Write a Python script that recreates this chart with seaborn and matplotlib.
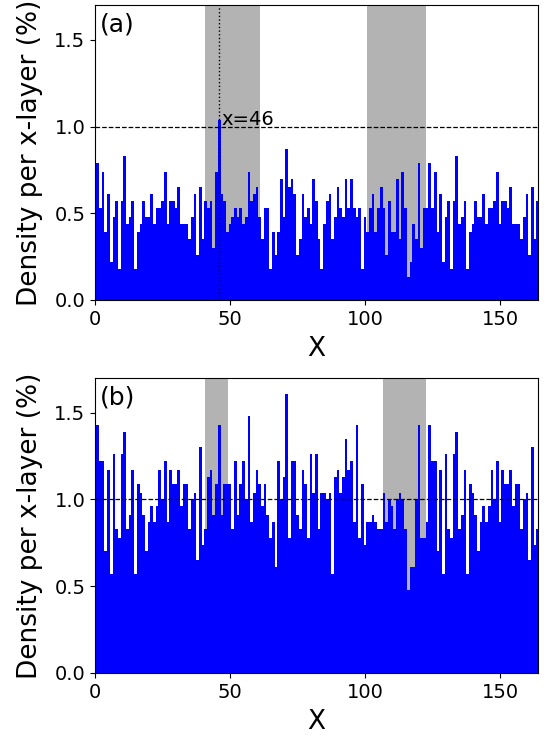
import numpy as np
import matplotlib
matplotlib.use("Agg")
import matplotlib.pyplot as plt
import seaborn as sns

## Data

x_layer = np.arange(165)

density_a = [
    0.53, 0.79, 0.53, 0.74, 0.39, 0.61, 0.22, 0.48, 0.57, 0.18,
    0.57, 0.83, 0.44, 0.48, 0.57, 0.18, 0.39, 0.44, 0.57, 0.48,
    0.48, 0.61, 0.44, 0.53, 0.53, 0.57, 0.74, 0.44, 0.57, 0.57,
    0.53, 0.65, 0.44, 0.44, 0.44, 0.35, 0.48, 0.61, 0.26, 0.65,
    0.35, 0.57, 0.53, 0.57, 0.30, 0.74, 1.04, 0.61, 0.57, 0.39,
    0.44, 0.48, 0.53, 0.48, 0.53, 0.44, 0.48, 0.74, 0.57, 0.61,
    0.65, 0.48, 0.35, 0.53, 0.53, 0.18, 0.39, 0.26, 0.39, 0.70,
    0.48, 0.87, 0.65, 0.70, 0.61, 0.26, 0.35, 0.61, 0.48, 0.53,
    0.44, 0.70, 0.57, 0.35, 0.18, 0.44, 0.57, 0.61, 0.35, 0.48,
    0.65, 0.53, 0.48, 0.70, 0.53, 0.70, 0.53, 0.48, 0.53, 0.18,
    0.48, 0.39, 0.53, 0.61, 0.39, 0.53, 0.65, 0.53, 0.26, 0.57,
    0.39, 0.39, 0.70, 0.35, 0.74, 0.53, 0.13, 0.22, 0.44, 0.35,
    0.79, 0.30, 0.53, 0.53, 0.79, 0.53, 0.74, 0.39, 0.61, 0.22,
    0.48, 0.57, 0.18, 0.57, 0.83, 0.44, 0.48, 0.57, 0.18, 0.39,
    0.44, 0.57, 0.48, 0.48, 0.61, 0.44, 0.53, 0.53, 0.57, 0.74,
    0.44, 0.57, 0.57, 0.53, 0.65, 0.44, 0.44, 0.44, 0.35, 0.48,
    0.61, 0.26, 0.65, 0.35, 0.57,
]

density_b = [
    0.87, 1.43, 1.22, 1.22, 0.70, 1.17, 0.57, 1.26, 0.83, 0.78,
    1.26, 1.39, 0.83, 0.91, 1.17, 0.57, 1.09, 1.04, 0.91, 0.70,
    0.87, 0.96, 0.87, 0.96, 1.17, 1.00, 1.22, 0.87, 1.17, 1.09,
    1.09, 1.17, 0.96, 1.09, 1.09, 0.83, 1.00, 1.04, 0.65, 1.30,
    0.74, 0.83, 1.13, 1.17, 0.91, 1.09, 1.43, 0.91, 1.09, 1.09,
    1.09, 0.83, 1.22, 0.91, 1.09, 1.22, 1.00, 1.48, 0.87, 1.04,
    1.17, 1.09, 0.96, 1.09, 0.91, 0.78, 0.87, 0.61, 1.22, 1.00,
    1.13, 1.61, 0.78, 1.22, 1.22, 0.91, 0.83, 1.17, 1.09, 0.78,
    1.26, 1.04, 1.26, 0.83, 1.04, 1.04, 1.00, 1.04, 0.57, 1.13,
    1.17, 1.04, 1.13, 1.35, 1.17, 1.22, 0.87, 1.43, 0.78, 1.09,
    0.74, 0.87, 0.87, 0.91, 0.87, 0.83, 0.83, 1.04, 0.87, 1.00,
    0.96, 0.83, 1.00, 1.04, 1.00, 0.83, 0.48, 0.61, 0.61, 1.00,
    1.43, 0.78, 0.78, 0.87, 1.43, 1.22, 1.22, 0.70, 1.17, 0.57,
    1.26, 0.83, 0.78, 1.26, 1.39, 0.83, 0.91, 1.17, 0.57, 1.09,
    1.04, 0.91, 0.70, 0.87, 0.96, 0.87, 0.96, 1.17, 1.00, 1.22,
    0.87, 1.17, 1.09, 1.09, 1.17, 0.96, 1.09, 1.09, 0.83, 1.00,
    1.04, 0.65, 1.30, 0.74, 0.83,
]

# shaded x-ranges
bands_a = [(40.7, 61.1), (100.8, 122.5)]
bands_b = [(40.7, 49.3), (106.7, 122.5)]

x_mark = 46

## Plot

fig = plt.figure(figsize=(5.46, 7.37), dpi=100)
ax_a = fig.add_axes([0.174, 0.593, 0.811, 0.400])
ax_b = fig.add_axes([0.174, 0.087, 0.811, 0.400])


def draw_panel(ax, dens, bands, tag):
    for lo, hi in bands:
        ax.axvspan(lo, hi, color="0.7", lw=0, zorder=0)
    sns.barplot(x=x_layer, y=dens, native_scale=True, width=1,
                color="blue", saturation=1, linewidth=0,
                errorbar=None, ax=ax, zorder=2)
    ax.axhline(1.0, color="k", ls="--", lw=0.9, zorder=3)
    ax.set_xlim(0, 164)
    ax.set_ylim(0, 1.7)
    ax.set_xticks([0, 50, 100, 150])
    ax.set_yticks([0.0, 0.5, 1.0, 1.5])
    ax.set_yticklabels(["0.0", "0.5", "1.0", "1.5"])
    ax.tick_params(labelsize=14)
    ax.set_xlabel("X", fontsize=19, labelpad=5)
    ax.set_ylabel("Density per x-layer (%)", fontsize=19, labelpad=8)
    ax.text(0.012, 0.975, tag, transform=ax.transAxes, va="top",
            ha="left", fontsize=18)


draw_panel(ax_a, density_a, bands_a, "(a)")
draw_panel(ax_b, density_b, bands_b, "(b)")

ax_a.axvline(x_mark, color="k", ls=":", lw=1, zorder=4)
ax_a.text(x_mark + 0.8, 1.01, f"x={x_mark}", fontsize=14, zorder=5)

fig.savefig("out.png", dpi=100)
